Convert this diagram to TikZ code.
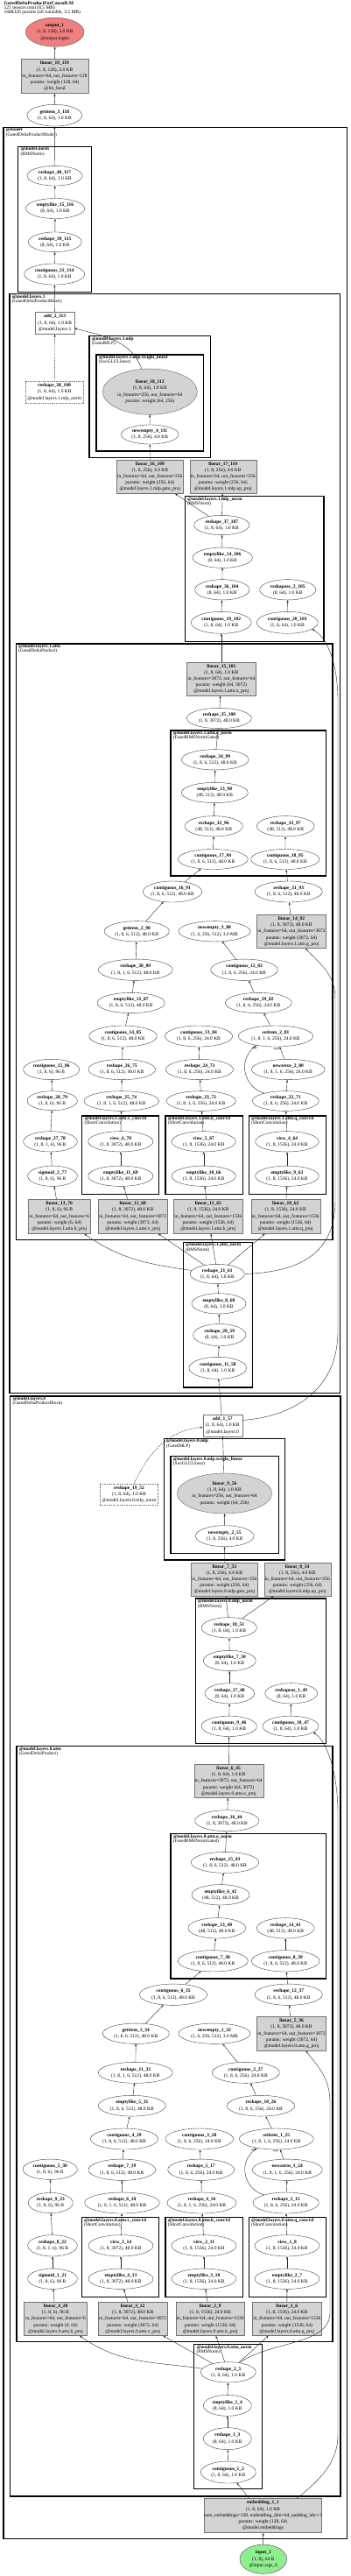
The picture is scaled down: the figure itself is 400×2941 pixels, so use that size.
\documentclass[tikz,border=0pt]{standalone}
\usepackage{fontspec}
\setmainfont{Liberation Serif}
\usetikzlibrary{arrows.meta,shapes.geometric}
\definecolor{outc}{HTML}{F08080}
\definecolor{inc}{HTML}{90EE90}
\definecolor{linc}{HTML}{D3D3D3}
\tikzset{
 ell/.style={ellipse,draw=black!75,line width=0.4pt,inner sep=0pt},
 gell/.style={ellipse,draw=black!60,fill=linc,line width=0.4pt,inner sep=0pt},
 lin/.style={rectangle,draw=black!55,fill=linc,line width=0.4pt,inner sep=0pt},
 addb/.style={rectangle,draw=black!55,line width=0.4pt,inner sep=0pt},
 dbox/.style={rectangle,draw=black!55,dash pattern=on 1.5pt off 1pt,line width=0.4pt,inner sep=0pt},
 outn/.style={ellipse,draw=black!70,fill=outc,line width=0.4pt,inner sep=0pt},
 inn/.style={ellipse,draw=black!70,fill=inc,line width=0.4pt,inner sep=0pt},
 tx/.style={align=center,inner sep=0pt,font=\fontsize{5.5}{7.2}\selectfont},
 cl/.style={anchor=north west,align=left,inner sep=0pt,font=\fontsize{5.3}{5.3}\selectfont},
 clu/.style={draw=black,line width=1.1pt},
 ed/.style={-{Stealth[length=3pt,width=2.2pt]},line width=0.4pt,draw=black!85},
 elab/.style={inner sep=0pt,font=\fontsize{3.5}{4}\selectfont},
}
\newcommand\gnode[7][ell]{\node[#1,minimum width=#5pt,minimum height=#6pt] (#2) at (#3,#4) {};\node[tx] (#2t) at (#2.center) {#7};}
\newcommand\gclu[7]{\draw[clu] (#2,#3) rectangle (#4,#5);\node[cl] (#1) at (#2+2.6,#3+0.8) {\textbf{#6}\\#7};}
\begin{document}
\begin{tikzpicture}[x=1pt,y=-1pt]
\fill[white] (0,0) rectangle (400,2941);
\useasboundingbox (0,0) rectangle (400,2941);
\node[anchor=north west,align=left,inner sep=0pt,font=\fontsize{5.5}{5.2}\selectfont] (hdr) at (4.5,1.5) {\textbf{GatedDeltaProductForCausalLM}\\121 tensors total (8.5 MB)\\1688320 params (all trainable, 3.2 MB)};
% clusters
\gclu{c1}{4}{145.3}{396.7}{2898.3}{@model}{(GatedDeltaProductModel)}
\gclu{c2}{20.7}{167.3}{104.7}{333.3}{@model.norm}{(RMSNorm)}
\gclu{c3}{11}{335.7}{388.7}{1590.7}{@model.layers.1}{(GatedDeltaProductBlock)}
\gclu{c4}{102}{383.7}{240.3}{522.7}{@model.layers.1.mlp}{(GatedMLP)}
\gclu{c5}{110}{405}{232.7}{515}{@model.layers.1.mlp.swiglu\_linear}{(SwiGLULinear)}
\gclu{c6}{211.3}{566.7}{370}{732.3}{@model.layers.1.mlp\_norm}{(RMSNorm)}
\gclu{c7}{18.3}{735}{380}{1415.7}{@model.layers.1.attn}{(GatedDeltaProduct)}
\gclu{c8}{195}{834}{372.3}{1000}{@model.layers.1.attn.o\_norm}{(FusedRMSNormGated)}
\gclu{c9}{93.7}{1274}{181.7}{1363.3}{@model.layers.1.attn.v\_conv1d}{(ShortConvolution)}
\gclu{c10}{189}{1274}{277.3}{1363.3}{@model.layers.1.attn.k\_conv1d}{(ShortConvolution)}
\gclu{c11}{284.3}{1274}{372.7}{1363.3}{@model.layers.1.attn.q\_conv1d}{(ShortConvolution)}
\gclu{c12}{209.3}{1418.3}{288.3}{1584}{@model.layers.1.attn\_norm}{(RMSNorm)}
\gclu{c13}{11.7}{1594}{389}{2850}{@model.layers.0}{(GatedDeltaProductBlock)}
\gclu{c14}{187.3}{1642.3}{325.7}{1781}{@model.layers.0.mlp}{(GatedMLP)}
\gclu{c15}{195}{1662.7}{318.3}{1773.3}{@model.layers.0.mlp.swiglu\_linear}{(SwiGLULinear)}
\gclu{c16}{223.3}{1825}{372.3}{1990.7}{@model.layers.0.mlp\_norm}{(RMSNorm)}
\gclu{c17}{19}{1993.3}{380}{2673.3}{@model.layers.0.attn}{(GatedDeltaProduct)}
\gclu{c18}{195}{2093.3}{372.3}{2259}{@model.layers.0.attn.o\_norm}{(FusedRMSNormGated)}
\gclu{c19}{93.3}{2531.7}{181.7}{2622.7}{@model.layers.0.attn.v\_conv1d}{(ShortConvolution)}
\gclu{c20}{189}{2531.7}{277.3}{2622.7}{@model.layers.0.attn.k\_conv1d}{(ShortConvolution)}
\gclu{c21}{284.3}{2531.7}{372.3}{2622.7}{@model.layers.0.attn.q\_conv1d}{(ShortConvolution)}
\gclu{c22}{221.7}{2676.7}{299.3}{2841.7}{@model.layers.0.attn\_norm}{(RMSNorm)}
% nodes top
\gnode[outn]{nout}{62.7}{36.7}{66.7}{33}{\textbf{output\_1}\\(1, 8, 128), 2.0 KB\\@output.logits}
\gnode[lin]{n119}{62.5}{87}{76.4}{39.4}{\textbf{linear\_19\_119}\\(1, 8, 128), 2.0 KB\\in\_features=64, out\_features=128\\params: weight (128, 64)\\@lm\_head}
\gnode{n118}{62.3}{131.7}{62.7}{24.7}{\textbf{getitem\_3\_118}\\(1, 8, 64), 1.0 KB}
\gnode{n117}{62.5}{200.7}{63}{22.7}{\textbf{reshape\_40\_117}\\(1, 8, 64), 1.0 KB}
\gnode{n116}{63}{238}{67.3}{23}{\textbf{emptylike\_15\_116}\\(8, 64), 1.0 KB}
\gnode{n115}{62.8}{276.3}{61}{22.7}{\textbf{reshape\_39\_115}\\(8, 64), 1.0 KB}
\gnode{n114}{62.2}{313}{69}{24}{\textbf{contiguous\_21\_114}\\(1, 8, 64), 1.0 KB}
% layer 1
\gnode[addb]{n113}{62.7}{368.8}{44.7}{25.7}{\textbf{add\_2\_113}\\(1, 8, 64), 1.0 KB\\@model.layers.1}
\gnode[dbox]{n108}{62.2}{447.5}{65.7}{25}{\textbf{reshape\_38\_108}\\(1, 8, 64), 1.0 KB\\@model.layers.1.mlp\_norm}
\gnode[gell]{n112}{171.3}{447.2}{108}{52.3}{\textbf{linear\_18\_112}\\(1, 8, 64), 1.0 KB\\in\_features=256, out\_features=64\\params: weight (64, 256)}
\gnode{n111}{171.2}{496}{65.7}{22}{\textbf{newempty\_4\_111}\\(1, 8, 256), 4.0 KB}
\gnode[lin]{n109}{171.3}{544.2}{76}{38.3}{\textbf{linear\_16\_109}\\(1, 8, 256), 4.0 KB\\in\_features=64, out\_features=256\\params: weight (256, 64)\\@model.layers.1.mlp.gate\_proj}
\gnode[lin]{n110}{254.7}{544.2}{76}{38.3}{\textbf{linear\_17\_110}\\(1, 8, 256), 4.0 KB\\in\_features=64, out\_features=256\\params: weight (256, 64)\\@model.layers.1.mlp.up\_proj}
\gnode{n107}{253.3}{599.5}{63.3}{22.3}{\textbf{reshape\_37\_107}\\(1, 8, 64), 1.0 KB}
\gnode{n106}{254.2}{636.7}{68.3}{23.3}{\textbf{emptylike\_14\_106}\\(8, 64), 1.0 KB}
\gnode{n104}{253.8}{673.3}{62.3}{23.3}{\textbf{reshape\_36\_104}\\(8, 64), 1.0 KB}
\gnode{n105}{328.8}{673.3}{64.3}{23.3}{\textbf{reshapeas\_2\_105}\\(8, 64), 1.0 KB}
\gnode{n102}{252.8}{710.8}{69}{25}{\textbf{contiguous\_19\_102}\\(1, 8, 64), 1.0 KB}
\gnode{n103}{328.3}{710.8}{70}{25}{\textbf{contiguous\_20\_103}\\(1, 8, 64), 1.0 KB}
\gnode[lin]{n101}{252.8}{775.2}{79}{38.3}{\textbf{linear\_15\_101}\\(1, 8, 64), 1.0 KB\\in\_features=3072, out\_features=64\\params: weight (64, 3072)\\@model.layers.1.attn.o\_proj}
\gnode{n100}{250.3}{820}{74}{23.3}{\textbf{reshape\_35\_100}\\(1, 8, 3072), 48.0 KB}
\gnode{n99}{245.8}{867.3}{77}{23.3}{\textbf{reshape\_34\_99}\\(1, 8, 6, 512), 48.0 KB}
\gnode{n98}{245.3}{905}{76}{23.3}{\textbf{emptylike\_13\_98}\\(48, 512), 48.0 KB}
\gnode{n96}{244.2}{943.3}{66.3}{23.3}{\textbf{reshape\_32\_96}\\(48, 512), 48.0 KB}
\gnode{n97}{326.2}{943.3}{65.7}{23.3}{\textbf{reshape\_33\_97}\\(48, 512), 48.0 KB}
\gnode{n94}{243.3}{981}{80}{23}{\textbf{contiguous\_17\_94}\\(1, 8, 6, 512), 48.0 KB}
\gnode{n95}{325.8}{981}{78.3}{23}{\textbf{contiguous\_18\_95}\\(1, 8, 6, 512), 48.0 KB}
\gnode{n91}{197}{1018}{67.3}{24}{\textbf{contiguous\_16\_91}\\(1, 8, 6, 512), 48.0 KB}
\gnode{n93}{329.7}{1018}{77.3}{24}{\textbf{reshape\_31\_93}\\(1, 8, 6, 512), 48.0 KB}
\gnode[lin]{n92}{333}{1063.5}{79.3}{38.3}{\textbf{linear\_14\_92}\\(1, 8, 3072), 48.0 KB\\in\_features=64, out\_features=3072\\params: weight (3072, 64)\\@model.layers.1.attn.g\_proj}
\gnode{n90}{156.2}{1063.3}{74.3}{23.3}{\textbf{getitem\_2\_90}\\(1, 8, 6, 512), 48.0 KB}
\gnode{n88}{245}{1063.3}{82}{23.3}{\textbf{newempty\_3\_88}\\(1, 6, 256, 512), 3.0 MB}
\gnode{n89}{154.8}{1107.2}{85}{24.3}{\textbf{reshape\_30\_89}\\(1, 8, 1, 6, 512), 48.0 KB}
\gnode{n83}{279}{1107.2}{76.7}{24.3}{\textbf{contiguous\_12\_83}\\(1, 8, 6, 256), 24.0 KB}
\gnode{n87}{149.7}{1145}{77.3}{23.3}{\textbf{emptylike\_12\_87}\\(1, 8, 6, 512), 48.0 KB}
\gnode{n82}{295.3}{1145}{76}{23.3}{\textbf{reshape\_29\_82}\\(1, 8, 6, 256), 24.0 KB}
\gnode{n85}{140.5}{1183}{77.7}{24}{\textbf{contiguous\_14\_85}\\(1, 8, 6, 512), 48.0 KB}
\gnode{n84}{227}{1183}{77.3}{24}{\textbf{contiguous\_13\_84}\\(1, 8, 6, 256), 24.0 KB}
\gnode{n81}{315}{1183}{85.3}{24}{\textbf{setitem\_2\_81}\\(1, 8, 1, 6, 256), 24.0 KB}
\gnode{n86}{58.7}{1221}{64}{23.3}{\textbf{contiguous\_15\_86}\\(1, 8, 6), 96 B}
\gnode{n75}{139.3}{1221}{76.7}{23.3}{\textbf{reshape\_26\_75}\\(1, 8, 6, 512), 48.0 KB}
\gnode{n73}{228}{1221}{77.3}{23.3}{\textbf{reshape\_24\_73}\\(1, 8, 6, 256), 24.0 KB}
\gnode{n80}{329.2}{1221}{83.7}{23.3}{\textbf{newzeros\_2\_80}\\(1, 8, 1, 6, 256), 24.0 KB}
\gnode{n79}{59.7}{1256.7}{57.3}{22}{\textbf{reshape\_28\_79}\\(1, 8, 6), 96 B}
\gnode{n74}{138.8}{1257}{85.7}{22.7}{\textbf{reshape\_25\_74}\\(1, 8, 1, 6, 512), 48.0 KB}
\gnode{n72}{229.7}{1257}{79.3}{22.7}{\textbf{reshape\_23\_72}\\(1, 8, 1, 6, 256), 24.0 KB}
\gnode{n71}{326.3}{1257}{76}{22.7}{\textbf{reshape\_22\_71}\\(1, 8, 6, 256), 24.0 KB}
\gnode{n78}{57.5}{1303.3}{61.7}{23.3}{\textbf{reshape\_27\_78}\\(1, 8, 1, 6), 96 B}
\gnode{n70}{137.8}{1303.3}{74.3}{23.3}{\textbf{view\_6\_70}\\(1, 8, 3072), 48.0 KB}
\gnode{n67}{232.7}{1303.3}{73.3}{23.3}{\textbf{view\_5\_67}\\(1, 8, 1536), 24.0 KB}
\gnode{n64}{328}{1303.3}{72.7}{23.3}{\textbf{view\_4\_64}\\(1, 8, 1536), 24.0 KB}
\gnode{n77}{60}{1342.7}{56.7}{23.3}{\textbf{sigmoid\_2\_77}\\(1, 8, 6), 96 B}
\gnode{n69}{137.8}{1342.7}{74.3}{23.3}{\textbf{emptylike\_11\_69}\\(1, 8, 3072), 48.0 KB}
\gnode{n66}{232.7}{1342.7}{73.3}{23.3}{\textbf{emptylike\_10\_66}\\(1, 8, 1536), 24.0 KB}
\gnode{n63}{328}{1342.7}{72.7}{23.3}{\textbf{emptylike\_9\_63}\\(1, 8, 1536), 24.0 KB}
\gnode[lin]{n76}{67.8}{1388.7}{71}{39.3}{\textbf{linear\_13\_76}\\(1, 8, 6), 96 B\\in\_features=64, out\_features=6\\params: weight (6, 64)\\@model.layers.1.attn.b\_proj}
\gnode[lin]{n68}{151.7}{1388.7}{78.7}{39.3}{\textbf{linear\_12\_68}\\(1, 8, 3072), 48.0 KB\\in\_features=64, out\_features=3072\\params: weight (3072, 64)\\@model.layers.1.attn.v\_proj}
\gnode[lin]{n65}{237.8}{1388.7}{79}{39.3}{\textbf{linear\_11\_65}\\(1, 8, 1536), 24.0 KB\\in\_features=64, out\_features=1536\\params: weight (1536, 64)\\@model.layers.1.attn.k\_proj}
\gnode[lin]{n62}{326.2}{1388.7}{79}{39.3}{\textbf{linear\_10\_62}\\(1, 8, 1536), 24.0 KB\\in\_features=64, out\_features=1536\\params: weight (1536, 64)\\@model.layers.1.attn.q\_proj}
\gnode{n61}{248.3}{1454.5}{62}{22.3}{\textbf{reshape\_21\_61}\\(1, 8, 64), 1.0 KB}
\gnode{n60}{250}{1488.3}{62}{23.3}{\textbf{emptylike\_8\_60}\\(8, 64), 1.0 KB}
\gnode{n59}{250.8}{1524}{60.3}{25}{\textbf{reshape\_20\_59}\\(8, 64), 1.0 KB}
\gnode{n58}{248.8}{1561.8}{65.7}{25}{\textbf{contiguous\_11\_58}\\(1, 8, 64), 1.0 KB}
% layer 0
\gnode[addb]{n57}{254.2}{1627.5}{45}{25}{\textbf{add\_1\_57}\\(1, 8, 64), 1.0 KB\\@model.layers.0}
\gnode[dbox]{n52}{147.5}{1706}{66.3}{24}{\textbf{reshape\_19\_52}\\(1, 8, 64), 1.0 KB\\@model.layers.0.mlp\_norm}
\gnode[gell]{n56}{256.5}{1705}{108.3}{46}{\textbf{linear\_9\_56}\\(1, 8, 64), 1.0 KB\\in\_features=256, out\_features=64\\params: weight (64, 256)}
\gnode{n55}{256.7}{1753.7}{66.7}{24}{\textbf{newempty\_2\_55}\\(1, 8, 256), 4.0 KB}
\gnode[lin]{n53}{256.3}{1803.2}{76}{38.3}{\textbf{linear\_7\_53}\\(1, 8, 256), 4.0 KB\\in\_features=64, out\_features=256\\params: weight (256, 64)\\@model.layers.0.mlp.gate\_proj}
\gnode[lin]{n54}{339.7}{1803.2}{76}{38.3}{\textbf{linear\_8\_54}\\(1, 8, 256), 4.0 KB\\in\_features=64, out\_features=256\\params: weight (256, 64)\\@model.layers.0.mlp.up\_proj}
\gnode{n51}{261.7}{1858.3}{63.3}{23.3}{\textbf{reshape\_18\_51}\\(1, 8, 64), 1.0 KB}
\gnode{n50}{262.3}{1896}{60}{23.3}{\textbf{emptylike\_7\_50}\\(8, 64), 1.0 KB}
\gnode{n48}{262.3}{1933.3}{56.7}{23.3}{\textbf{reshape\_17\_48}\\(8, 64), 1.0 KB}
\gnode{n49}{332.7}{1933.3}{60}{23.3}{\textbf{reshapeas\_1\_49}\\(8, 64), 1.0 KB}
\gnode{n46}{261.7}{1970.8}{63.3}{23.3}{\textbf{contiguous\_9\_46}\\(1, 8, 64), 1.0 KB}
\gnode{n47}{332}{1970.8}{64}{23.3}{\textbf{contiguous\_10\_47}\\(1, 8, 64), 1.0 KB}
\gnode[lin]{n45}{261.2}{2033.5}{79}{38.3}{\textbf{linear\_6\_45}\\(1, 8, 64), 1.0 KB\\in\_features=3072, out\_features=64\\params: weight (64, 3072)\\@model.layers.0.attn.o\_proj}
\gnode{n44}{259.3}{2078.7}{73.3}{24}{\textbf{reshape\_16\_44}\\(1, 8, 3072), 48.0 KB}
\gnode{n43}{257}{2126.3}{77.3}{24}{\textbf{reshape\_15\_43}\\(1, 8, 6, 512), 48.0 KB}
\gnode{n42}{252}{2163.3}{66}{23.3}{\textbf{emptylike\_6\_42}\\(48, 512), 48.0 KB}
\gnode{n40}{247.8}{2201.3}{65.7}{23.3}{\textbf{reshape\_13\_40}\\(48, 512), 48.0 KB}
\gnode{n41}{326.2}{2201.3}{65.7}{23.3}{\textbf{reshape\_14\_41}\\(48, 512), 48.0 KB}
\gnode{n38}{243.3}{2238.8}{80}{24.3}{\textbf{contiguous\_7\_38}\\(1, 8, 6, 512), 48.0 KB}
\gnode{n39}{326.2}{2238.8}{77.7}{24.3}{\textbf{contiguous\_8\_39}\\(1, 8, 6, 512), 48.0 KB}
\gnode{n35}{198}{2277.2}{77.3}{24.3}{\textbf{contiguous\_6\_35}\\(1, 8, 6, 512), 48.0 KB}
\gnode{n37}{329.7}{2277.2}{77.3}{24.3}{\textbf{reshape\_12\_37}\\(1, 8, 6, 512), 48.0 KB}
\gnode[lin]{n36}{333}{2321.7}{79.3}{38.7}{\textbf{linear\_5\_36}\\(1, 8, 3072), 48.0 KB\\in\_features=64, out\_features=3072\\params: weight (3072, 64)\\@model.layers.0.attn.g\_proj}
\gnode{n34}{155.3}{2321.7}{76}{23.3}{\textbf{getitem\_1\_34}\\(1, 8, 6, 512), 48.0 KB}
\gnode{n32}{245}{2321.7}{82}{23.3}{\textbf{newempty\_1\_32}\\(1, 6, 256, 512), 3.0 MB}
\gnode{n33}{154.8}{2366.3}{85}{24}{\textbf{reshape\_11\_33}\\(1, 8, 1, 6, 512), 48.0 KB}
\gnode{n27}{280.8}{2366.3}{77}{24}{\textbf{contiguous\_2\_27}\\(1, 8, 6, 256), 24.0 KB}
\gnode{n31}{150.8}{2404.2}{77}{23.7}{\textbf{emptylike\_5\_31}\\(1, 8, 6, 512), 48.0 KB}
\gnode{n26}{298}{2404.2}{77.3}{23.7}{\textbf{reshape\_10\_26}\\(1, 8, 6, 256), 24.0 KB}
\gnode{n29}{142}{2442}{77.3}{24}{\textbf{contiguous\_4\_29}\\(1, 8, 6, 512), 48.0 KB}
\gnode{n28}{227.8}{2442}{77.7}{24}{\textbf{contiguous\_3\_28}\\(1, 8, 6, 256), 24.0 KB}
\gnode{n25}{315.8}{2442}{85}{24}{\textbf{setitem\_1\_25}\\(1, 8, 1, 6, 256), 24.0 KB}
\gnode{n30}{57.2}{2476.7}{62.3}{23.3}{\textbf{contiguous\_5\_30}\\(1, 8, 6), 96 B}
\gnode{n19}{139.3}{2477.2}{76.7}{24.3}{\textbf{reshape\_7\_19}\\(1, 8, 6, 512), 48.0 KB}
\gnode{n17}{229.7}{2477.2}{76}{24.3}{\textbf{reshape\_5\_17}\\(1, 8, 6, 256), 24.0 KB}
\gnode{n24}{328.3}{2477.2}{80}{24.3}{\textbf{newzeros\_1\_24}\\(1, 8, 1, 6, 256), 24.0 KB}
\gnode{n23}{57.8}{2515}{51}{23.3}{\textbf{reshape\_9\_23}\\(1, 8, 6), 96 B}
\gnode{n18}{139.5}{2515}{85.7}{24}{\textbf{reshape\_6\_18}\\(1, 8, 1, 6, 512), 48.0 KB}
\gnode{n16}{230.5}{2515}{79}{24}{\textbf{reshape\_4\_16}\\(1, 8, 1, 6, 256), 24.0 KB}
\gnode{n15}{326.7}{2515}{75.3}{24}{\textbf{reshape\_3\_15}\\(1, 8, 6, 256), 24.0 KB}
\gnode{n22}{60}{2563.8}{56.7}{24.3}{\textbf{reshape\_8\_22}\\(1, 8, 1, 6), 96 B}
\gnode{n14}{138}{2563.8}{74}{24.3}{\textbf{view\_3\_14}\\(1, 8, 3072), 48.0 KB}
\gnode{n11}{233}{2563.8}{74}{24.3}{\textbf{view\_2\_11}\\(1, 8, 1536), 24.0 KB}
\gnode{n8}{328}{2563.8}{74}{24.3}{\textbf{view\_1\_8}\\(1, 8, 1536), 24.0 KB}
\gnode{n21}{60}{2601.7}{56.7}{23.3}{\textbf{sigmoid\_1\_21}\\(1, 8, 6), 96 B}
\gnode{n13}{138}{2601.7}{74}{23.3}{\textbf{emptylike\_4\_13}\\(1, 8, 3072), 48.0 KB}
\gnode{n10}{233}{2601.7}{74}{23.3}{\textbf{emptylike\_3\_10}\\(1, 8, 1536), 24.0 KB}
\gnode{n7}{328}{2601.7}{74}{23.3}{\textbf{emptylike\_2\_7}\\(1, 8, 1536), 24.0 KB}
\gnode[lin]{n20}{63.5}{2647.5}{71.7}{38.3}{\textbf{linear\_4\_20}\\(1, 8, 6), 96 B\\in\_features=64, out\_features=6\\params: weight (6, 64)\\@model.layers.0.attn.b\_proj}
\gnode[lin]{n12}{151.7}{2647.5}{78.7}{38.3}{\textbf{linear\_3\_12}\\(1, 8, 3072), 48.0 KB\\in\_features=64, out\_features=3072\\params: weight (3072, 64)\\@model.layers.0.attn.v\_proj}
\gnode[lin]{n9}{240.2}{2647.5}{78.3}{38.3}{\textbf{linear\_2\_9}\\(1, 8, 1536), 24.0 KB\\in\_features=64, out\_features=1536\\params: weight (1536, 64)\\@model.layers.0.attn.k\_proj}
\gnode[lin]{n6}{327.8}{2647.5}{79}{38.3}{\textbf{linear\_1\_6}\\(1, 8, 1536), 24.0 KB\\in\_features=64, out\_features=1536\\params: weight (1536, 64)\\@model.layers.0.attn.q\_proj}
\gnode{n5}{260.8}{2708.3}{63}{23.3}{\textbf{reshape\_2\_5}\\(1, 8, 64), 1.0 KB}
\gnode{n4}{259.8}{2746.3}{55}{24}{\textbf{emptylike\_1\_4}\\(8, 64), 1.0 KB}
\gnode{n3}{259.8}{2784.2}{55}{25}{\textbf{reshape\_1\_3}\\(8, 64), 1.0 KB}
\gnode{n2}{260.8}{2822.5}{63}{25}{\textbf{contiguous\_1\_2}\\(1, 8, 64), 1.0 KB}
\gnode[lin]{n1}{300.5}{2872}{134.3}{39.3}{\textbf{embedding\_1\_1}\\(1, 8, 64), 1.0 KB\\num\_embeddings=128, embedding\_dim=64, padding\_idx=-1\\params: weight (128, 64)\\@model.embeddings}
\gnode[inn]{nin}{300.8}{2921.7}{53.7}{33.3}{\textbf{input\_1}\\(1, 8), 64 B\\@input.args\_0}
% edges top
\draw[ed] (n119) -- (nout);
\draw[ed] (n118) -- (n119);
\draw[ed] (n117) -- (n118);
\draw[ed] (n116) -- (n117);
\draw[ed] (n115) -- (n116);
\draw[ed] (n114) -- (n115);
\draw[ed] (n113) -- (n114);
% layer 1 edges
\draw[ed,dash pattern=on 1.5pt off 1pt] (n108) -- (n113);
\draw[ed] (n112) to[out=110,in=-15] (n113);
\draw[ed] (n111) -- (n112);
\draw[ed] (n109) -- (n111);
\draw[ed] (n107) -- (n109);
\draw[ed] (n107) -- (n110);
\draw[ed] (n106) -- (n107);
\draw[ed] (n104) -- (n106);
\draw[ed] (n102) -- (n104);
\draw[ed] (n103) -- (n105);
\draw[ed] (n101) -- (n102);
\draw[ed] (n100) -- (n101);
\draw[ed] (n99) -- (n100);
\draw[ed] (n98) -- (n99);
\draw[ed] (n96) -- (n98);
\draw[ed] (n94) -- (n96);
\draw[ed] (n95) -- (n97);
\draw[ed] (n91) -- (n94);
\draw[ed] (n93) -- (n95);
\draw[ed] (n92) -- (n93);
\draw[ed] (n90) -- (n91);
\draw[ed] (n89) -- (n90);
\draw[ed] (n87) -- (n89);
\draw[ed] (n85) -- (n87);
\draw[ed] (n75) -- (n85);
\draw[ed] (n83) -- (n88);
\draw[ed] (n82) -- (n83);
\draw[ed] (n81) -- (n82);
\draw[ed] (n73) -- (n84);
\draw[ed] (n80) -- (n81);
\draw[ed] (n71.160) .. controls (280,1242) and (270,1212) .. (n81.-155);
\draw[ed] (n71) -- (n80);
\draw[ed] (n79) -- (n86);
\draw[ed] (n74) -- (n75);
\draw[ed] (n72) -- (n73);
\draw[ed] (n78) -- (n79);
\draw[ed] (n70) -- (n74);
\draw[ed] (n67) -- (n72);
\draw[ed] (n64) -- (n71);
\draw[ed] (n77) -- (n78);
\draw[ed] (n69) -- (n70);
\draw[ed] (n66) -- (n67);
\draw[ed] (n63) -- (n64);
\draw[ed] (n76) -- (n77);
\draw[ed] (n68) -- (n69);
\draw[ed] (n65) -- (n66);
\draw[ed] (n62) -- (n63);
\draw[ed] (n61) to[out=172,in=-35] (n76);
\draw[ed] (n61) -- (n68);
\draw[ed] (n61) -- (n65);
\draw[ed] (n61) -- (n62);
\draw[ed] (n61.east) .. controls (345,1452) and (383,1430) .. (383,1370) -- (383,1140) .. controls (383,1110) and (362,1098) .. (n92.-50);
\draw[ed] (n60) -- (n61);
\draw[ed] (n59) -- (n60);
\draw[ed] (n58) -- (n59);
\draw[ed] (n57) -- (n58);
\draw[ed] (n57.15) .. controls (330,1618) and (386,1590) .. (386,1520) -- (386,800) .. controls (386,760) and (375,728) .. (n103.-15);
% layer 0 edges
\draw[ed,dash pattern=on 1.5pt off 1pt] (n52) to[out=65,in=185] (n57);
\draw[ed] (n56) -- (n57);
\draw[ed] (n55) -- (n56);
\draw[ed] (n53) -- (n55);
\draw[ed] (n51) -- (n53);
\draw[ed] (n51) -- (n54);
\draw[ed] (n50) -- (n51);
\draw[ed] (n48) -- (n50);
\draw[ed] (n46) -- (n48);
\draw[ed] (n47) -- (n49);
\draw[ed] (n45) -- (n46);
\draw[ed] (n44) -- (n45);
\draw[ed] (n43) -- (n44);
\draw[ed] (n42) -- (n43);
\draw[ed] (n40) -- (n42);
\draw[ed] (n38) -- (n40);
\draw[ed] (n39) -- (n41);
\draw[ed] (n35) -- (n38);
\draw[ed] (n37) -- (n39);
\draw[ed] (n36) -- (n37);
\draw[ed] (n34) -- (n35);
\draw[ed] (n33) -- (n34);
\draw[ed] (n27) -- (n32);
\draw[ed] (n31) -- (n33);
\draw[ed] (n26) -- (n27);
\draw[ed] (n29) -- (n31);
\draw[ed] (n25) -- (n26);
\draw[ed] (n19) -- (n29);
\draw[ed] (n17) -- (n28);
\draw[ed] (n24) -- (n25);
\draw[ed] (n15.160) .. controls (280,2500) and (270,2470) .. (n25.-155);
\draw[ed] (n23) -- (n30);
\draw[ed] (n18) -- (n19);
\draw[ed] (n16) -- (n17);
\draw[ed] (n15) -- (n24);
\draw[ed] (n22) -- (n23);
\draw[ed] (n14) -- (n18);
\draw[ed] (n11) -- (n16);
\draw[ed] (n8) -- (n15);
\draw[ed] (n21) -- (n22);
\draw[ed] (n13) -- (n14);
\draw[ed] (n10) -- (n11);
\draw[ed] (n7) -- (n8);
\draw[ed] (n20) -- (n21);
\draw[ed] (n12) -- (n13);
\draw[ed] (n9) -- (n10);
\draw[ed] (n6) -- (n7);
\draw[ed] (n5) to[out=172,in=-35] (n20);
\draw[ed] (n5) -- (n12);
\draw[ed] (n5) -- (n9);
\draw[ed] (n5) -- (n6);
\draw[ed] (n5.40) .. controls (310,2672) and (377,2678) .. (377,2640) -- (377,2400) .. controls (377,2370) and (360,2356) .. (n36.-50);
\draw[ed] (n4) -- (n5);
\draw[ed] (n3) -- (n4);
\draw[ed] (n2) -- (n3);
\draw[ed] (n1) -- (n2);
\draw[ed] (n1.27) .. controls (360,2835) and (386,2815) .. (386,2780) -- (386,2070) .. controls (386,2030) and (376,1990) .. (n47.-15);
\draw[ed] (nin) -- (n1);
% edge labels
\node[elab] (la1) at (291,1197) {arg2};
\node[elab] (la2) at (315.5,1197.5) {arg0};
\node[elab] (la3) at (290,2455) {arg2};
\node[elab] (la4) at (315,2455.5) {arg0};
\end{tikzpicture}
\end{document}
